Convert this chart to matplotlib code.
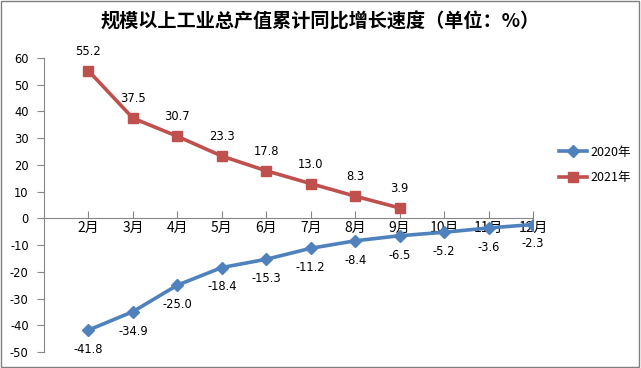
import matplotlib
matplotlib.use("Agg")
import matplotlib.pyplot as plt
from matplotlib.patches import Rectangle

plt.rcParams['font.family'] = ['Noto Sans CJK SC', 'DejaVu Sans']

months = ["", "2月", "3月", "4月", "5月", "6月", "7月", "8月", "9月", "10月", "11月", "12月"]
s2020 = [None, -41.8, -34.9, -25.0, -18.4, -15.3, -11.2, -8.4, -6.5, -5.2, -3.6, -2.3]
s2021 = [None, 55.2, 37.5, 30.7, 23.3, 17.8, 13.0, 8.3, 3.9, None, None, None]
yticks = [60, 50, 40, 30, 20, 10, 0, -10, -20, -30, -40, -50]
title = "规模以上工业总产值累计同比增长速度（单位：%）"

blue = "#4F81BD"
red = "#C0504D"
axc = "#868686"

fig = plt.figure(figsize=(6.41, 3.68), dpi=100)
fig.patches.append(Rectangle((0.002, 0.003), 0.995, 0.993, transform=fig.transFigure,
                             fill=False, edgecolor="#7f7f7f", linewidth=1.0))
ax = fig.add_axes([44/641, 1-352/368, (533-44)/641, (352-58)/368])

x = list(range(len(months)))
x20 = [i for i in x if s2020[i] is not None]
y20 = [s2020[i] for i in x20]
x21 = [i for i in x if s2021[i] is not None]
y21 = [s2021[i] for i in x21]

l20, = ax.plot(x20, y20, color=blue, lw=2.6, marker="D", ms=6, label="2020年", zorder=3)
l21, = ax.plot(x21, y21, color=red, lw=2.6, marker="s", ms=7.5, label="2021年", zorder=3)

for xi, yi in zip(x20, y20):
    ax.annotate(f"{yi:.1f}", (xi, yi), xytext=(0, -14), textcoords="offset points",
                ha="center", va="center", fontsize=8.3, family="DejaVu Sans")
for xi, yi in zip(x21, y21):
    ax.annotate(f"{yi:.1f}", (xi, yi), xytext=(0, 14), textcoords="offset points",
                ha="center", va="center", fontsize=8.3, family="DejaVu Sans")

ax.set_xlim(0, 11)
ax.set_ylim(-50, 60)
ax.set_yticks(yticks)
ax.set_yticklabels([str(v) for v in yticks], fontsize=8.3, family="DejaVu Sans")
ax.set_xticks(x[1:])
ax.set_xticklabels(months[1:], fontsize=9.5)

for s in ["top", "right"]:
    ax.spines[s].set_visible(False)
ax.spines["left"].set_color(axc)
ax.spines["bottom"].set_color(axc)
ax.spines["bottom"].set_position(("data", 0))
ax.tick_params(axis="y", direction="out", length=5, color=axc, pad=6)
ax.tick_params(axis="x", direction="in", length=5, color=axc, pad=2)
ax.patch.set_alpha(0)

fig.text(0.5, 1-22/368, title, ha="center", va="center", fontsize=13.8, fontweight="bold")

fig.legend(handles=[l20, l21], loc="center left", bbox_to_anchor=(548/641, 1-165/368),
           frameon=False, fontsize=9, handlelength=2.2, labelspacing=1.0,
           handletextpad=0.3)

fig.savefig("out.png", dpi=100)
